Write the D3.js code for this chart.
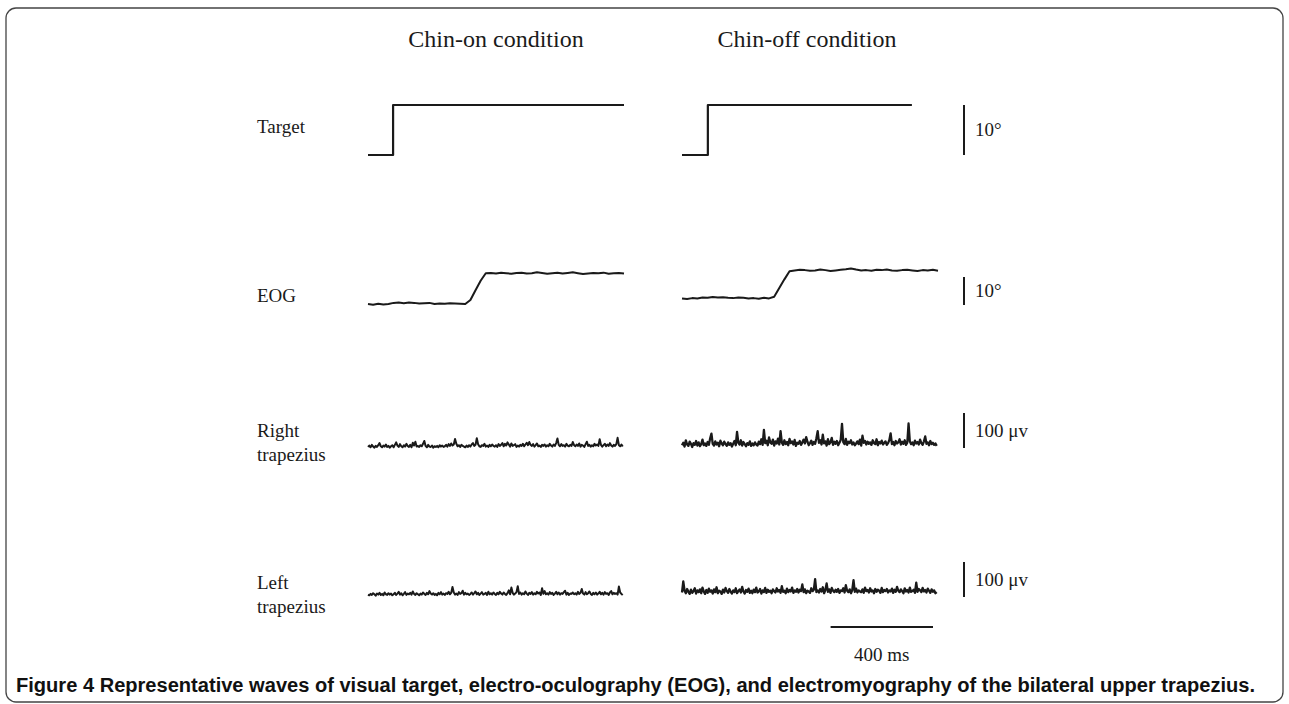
<!DOCTYPE html>
<html>
<head>
<meta charset="utf-8">
<script src="https://cdn.jsdelivr.net/npm/d3@7"></script>
<style>
  body { margin: 0; background: #fff; }
  svg { display: block; }
</style>
</head>
<body>
<svg id="chart" width="1289" height="704"></svg>
<script>
// panel titles and row labels
var conditions = ["Chin-on condition", "Chin-off condition"];
var rowLabels = [["Target"], ["EOG"], ["Right", "trapezius"], ["Left", "trapezius"]];
var scaleLabels = ["10°", "10°", "100 μv", "100 μv"];
var scaleValues = [10, 10, 100, 100];
var timeBarMs = 400;
var timeBarLabel = "400 ms";
var caption = "Representative waves of visual target, electro-oculography (EOG), and electromyography of the bilateral upper trapezius.";

// target step (deg) as time/value pairs
var targetOnT = [0, 98, 98, 1000];
var targetOnV = [0, 0, 10, 10];
var targetOffT = [0, 101, 101, 898];
var targetOffV = [0, 0, 10, 10];

// EOG (deg), one sample every 20 ms
var eogStep = 20;
var eogOn = [0.0,-0.3,0.1,-0.2,0.0,0.4,0.5,0.3,0.5,0.4,0.2,0.3,0.4,0.0,0.2,0.1,0.3,0.2,0.1,0.0,
  1.4,4.9,8.3,11.0,11.1,10.9,11.2,11.0,10.8,11.1,11.2,10.9,11.0,11.3,11.1,10.8,11.0,11.2,10.9,11.1,
  11.3,11.0,10.7,10.9,11.1,11.0,11.2,10.8,11.0,11.1,10.9];
var eogOff = [2.0,1.8,2.1,2.0,2.3,2.2,2.5,2.3,2.4,2.2,2.1,2.3,2.2,2.0,2.1,1.9,2.2,2.0,
  2.6,5.7,8.8,11.7,12.0,12.2,12.1,11.9,12.0,12.3,12.1,11.8,12.0,12.2,
  12.4,12.7,12.3,12.0,12.1,11.9,12.2,12.1,12.3,12.0,11.9,12.1,12.2,12.0,11.8,12.1,12.0,12.2,11.9];

// EMG (µV), one sample every 5 ms
var emgStep = 5;
var rightOn = [3,7,2,9,4,1,6,3,8,14,5,2,7,4,10,3,6,1,5,8,
  2,9,16,7,3,11,5,2,8,4,12,6,3,9,2,15,7,18,4,6,
  3,8,5,12,20,6,2,9,4,3,7,1,5,3,6,2,8,4,7,3,
  5,9,4,11,6,13,7,10,26,12,5,8,3,9,6,4,2,7,3,8,
  4,10,14,6,9,28,11,5,3,8,6,12,4,7,3,9,5,10,6,4,
  8,3,11,6,9,14,5,12,7,16,10,4,13,6,8,11,3,7,4,9,
  6,12,5,10,15,8,17,9,6,11,4,8,13,5,7,3,9,6,10,4,
  8,5,12,7,4,10,6,14,27,9,5,11,6,8,4,12,7,5,9,6,
  17,8,5,10,6,13,4,9,7,3,11,18,6,9,4,8,5,12,7,10,
  6,25,9,4,8,12,5,10,6,14,7,4,9,6,11,29,8,5,10,4];
var rightOff = [8,15,4,22,10,6,18,12,3,14,9,20,7,16,5,11,24,8,13,6,
  17,9,28,41,12,7,19,10,15,5,21,13,8,18,11,6,16,9,14,4,
  12,20,8,46,15,10,22,7,17,11,5,14,9,19,6,13,8,16,10,7,
  18,11,25,9,52,14,21,8,30,16,12,24,7,19,13,27,10,48,15,9,
  22,11,17,8,26,14,19,10,23,6,15,12,20,9,16,24,13,31,18,8,
  14,21,9,17,12,28,48,15,22,10,38,13,19,7,25,11,16,29,9,18,
  12,20,8,15,23,69,17,11,26,9,18,14,22,10,16,8,13,19,11,24,
  7,35,15,20,10,18,12,16,9,22,14,11,25,8,17,13,21,10,15,19,
  9,14,23,42,11,17,8,20,13,16,25,10,18,12,22,9,15,70,19,11,
  16,8,21,13,17,10,24,14,9,19,33,12,16,8,20,11,15,9,13,6];
var leftOn = [4,2,6,3,8,5,1,7,4,9,3,6,2,10,5,3,8,4,7,2,
  5,9,3,7,12,4,8,2,6,11,3,7,5,9,4,13,6,3,8,5,
  2,7,4,10,6,3,9,5,14,7,4,8,3,6,2,9,5,11,4,7,
  3,8,6,12,5,9,26,10,4,7,3,11,6,8,15,4,9,5,7,3,
  6,10,4,8,13,5,9,3,7,11,4,6,9,3,12,5,8,4,10,6,
  3,9,5,12,7,4,10,6,3,8,16,5,24,9,4,7,11,28,6,10,
  4,8,5,13,7,3,9,6,11,4,8,5,12,7,10,3,22,6,14,5,
  8,4,11,6,9,3,7,12,5,10,4,8,6,11,15,4,9,3,7,6,
  10,5,8,4,12,6,9,20,7,4,11,5,8,13,6,3,9,5,10,4,
  7,12,5,9,4,11,6,8,3,10,14,5,9,6,8,4,27,10,6,3];
var leftOff = [10,42,15,8,20,12,6,18,9,14,22,7,16,11,19,8,24,13,6,17,
  9,21,12,16,7,19,11,25,8,15,13,6,18,10,23,14,9,20,12,7,
  16,11,22,8,14,19,10,26,13,7,17,12,21,9,15,8,18,11,24,10,
  13,20,7,16,11,23,9,18,12,15,8,19,14,10,22,13,17,9,28,12,
  15,8,21,11,17,13,24,9,16,12,20,10,18,14,33,11,19,8,15,13,
  9,22,14,18,48,11,16,10,20,13,25,8,17,36,12,19,9,23,15,11,
  18,12,20,9,16,14,22,10,31,15,11,19,8,17,45,12,21,10,16,13,
  11,19,9,24,14,17,10,22,13,16,8,20,12,18,15,9,23,11,17,14,
  20,10,16,13,21,9,18,12,26,15,11,19,14,8,22,13,17,10,24,12,
  14,18,9,38,12,20,16,11,23,13,17,10,21,15,9,19,12,16,8,11];

var svg = d3.select("#chart");
var ink = "#1a1a1a";
var serif = "'Liberation Serif', 'DejaVu Serif', serif";

// frame with rounded corners
svg.append("rect")
  .attr("x", 6).attr("y", 8)
  .attr("width", 1277).attr("height", 694)
  .attr("rx", 10)
  .attr("fill", "none")
  .attr("stroke", "#444")
  .attr("stroke-width", 1.3);

// time scales, one per panel
var xOn = d3.scaleLinear().domain([0, 1000]).range([368, 624]);
var xOff = d3.scaleLinear().domain([0, 1000]).range([682, 938]);

// vertical scales, one per row
var yTarget = d3.scaleLinear().domain([0, 10]).range([155, 105]);
var yEog = d3.scaleLinear().domain([0, 10]).range([304, 276]);
var yRight = d3.scaleLinear().domain([0, 100]).range([448, 413]);
var yLeft = d3.scaleLinear().domain([0, 100]).range([596, 561]);
var rowScales = [yTarget, yEog, yRight, yLeft];

function pairs(ts, vs) {
  return ts.map(function(t, i) { return { t: t, v: vs[i] }; });
}
function sampled(vs, step) {
  return vs.map(function(v, i) { return { t: i * step, v: v }; });
}

function drawTrace(data, x, y, width) {
  var line = d3.line().x(function(d) { return x(d.t); }).y(function(d) { return y(d.v); });
  svg.append("path")
    .datum(data)
    .attr("d", line)
    .attr("fill", "none")
    .attr("stroke", ink)
    .attr("stroke-width", width)
    .attr("stroke-linejoin", "round");
}

drawTrace(pairs(targetOnT, targetOnV), xOn, yTarget, 2.2);
drawTrace(pairs(targetOffT, targetOffV), xOff, yTarget, 2.2);
drawTrace(sampled(eogOn, eogStep), xOn, yEog, 2);
drawTrace(sampled(eogOff, eogStep), xOff, yEog, 2);
drawTrace(sampled(rightOn, emgStep), xOn, yRight, 2);
drawTrace(sampled(rightOff, emgStep), xOff, yRight, 2.3);
drawTrace(sampled(leftOn, emgStep), xOn, yLeft, 2);
drawTrace(sampled(leftOff, emgStep), xOff, yLeft, 2.3);

// panel titles
var titleX = [496, 807];
svg.selectAll(".title")
  .data(conditions)
  .enter().append("text")
  .attr("x", function(d, i) { return titleX[i]; })
  .attr("y", 47)
  .attr("text-anchor", "middle")
  .style("font-family", serif)
  .style("font-size", "24px")
  .attr("fill", ink)
  .text(function(d) { return d; });

// row labels
var labelY = [133, 302, 437, 589];
rowLabels.forEach(function(lines, r) {
  var t = svg.append("text")
    .attr("x", 257)
    .attr("y", labelY[r])
    .style("font-family", serif)
    .style("font-size", "19px")
    .attr("fill", ink);
  lines.forEach(function(s, k) {
    t.append("tspan").attr("x", 257).attr("dy", k === 0 ? 0 : 24).text(s);
  });
});

// scale bars on the right
var barBottom = [155, 305, 448, 597];
rowScales.forEach(function(y, r) {
  var len = y(0) - y(scaleValues[r]);
  svg.append("line")
    .attr("x1", 964).attr("x2", 964)
    .attr("y1", barBottom[r] - len).attr("y2", barBottom[r])
    .attr("stroke", ink).attr("stroke-width", 2);
  svg.append("text")
    .attr("x", 975)
    .attr("y", barBottom[r] - len / 2 + 6)
    .style("font-family", serif)
    .style("font-size", "19px")
    .attr("fill", ink)
    .text(scaleLabels[r]);
});

// time bar
var barLen = xOff(timeBarMs) - xOff(0);
svg.append("line")
  .attr("x1", xOff(1000) - 5 - barLen).attr("x2", xOff(1000) - 5)
  .attr("y1", 627).attr("y2", 627)
  .attr("stroke", ink).attr("stroke-width", 2);
svg.append("text")
  .attr("x", xOff(1000) - 5 - barLen / 2)
  .attr("y", 661)
  .attr("text-anchor", "middle")
  .style("font-family", serif)
  .style("font-size", "19px")
  .attr("fill", ink)
  .text(timeBarLabel);

// caption
var cap = svg.append("text")
  .attr("x", 16)
  .attr("y", 692)
  .attr("textLength", 1239)
  .attr("lengthAdjust", "spacingAndGlyphs")
  .style("font-family", "'Liberation Sans Narrow', 'Liberation Sans', Arial, sans-serif")
  .style("font-size", "20px")
  .style("font-weight", "bold")
  .attr("fill", "#111");
cap.append("tspan").text("Figure 4 ");
cap.append("tspan").style("font-weight", 600).text(caption);
</script>
</body>
</html>
